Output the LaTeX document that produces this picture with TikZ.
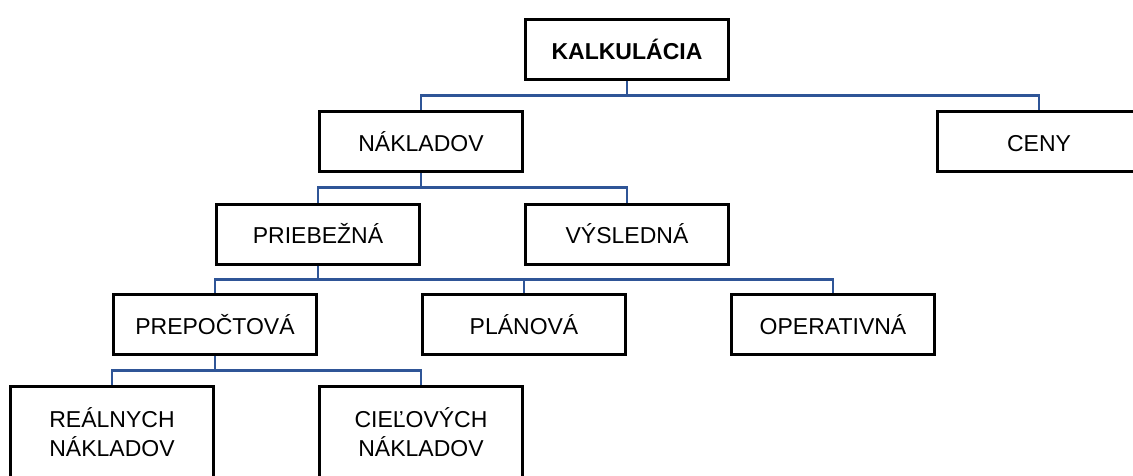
\documentclass[tikz,border=0pt]{standalone}
\usepackage{fontspec}
\setmainfont{Liberation Sans}
\usetikzlibrary{calc}
\definecolor{linkblue}{RGB}{47,85,151}
\tikzset{
  box/.style={draw=black, line width=3pt, fill=white, minimum width=203pt, minimum height=60pt,
    inner sep=0pt, align=center, font=\fontsize{23}{29}\selectfont,
    execute at begin node={\vphantom{ÁČŽ}}},
  tallbox/.style={box, minimum height=92pt},
  link/.style={draw=linkblue, line width=2.6pt}
}
\begin{document}
\begin{tikzpicture}[x=1pt,y=-1pt]
\useasboundingbox (0,0) rectangle (1133,475);
\clip (0,0) rectangle (1133,475);
\node[box] (K) at (627,49) {\bfseries KALKULÁCIA};
\node[box] (N) at (421,141.5) {NÁKLADOV};
\node[box] (C) at (1039,141.5) {CENY};
\node[box] (PR) at (318,234) {PRIEBEŽNÁ};
\node[box] (VY) at (627,234) {VÝSLEDNÁ};
\node[box] (PP) at (215,324.5) {PREPOČTOVÁ};
\node[box] (PL) at (524,324.5) {PLÁNOVÁ};
\node[box] (OP) at (833,324.5) {OPERATIVNÁ};
\node[tallbox] (RE) at (112,432.5) {REÁLNYCH\\NÁKLADOV};
\node[tallbox] (CI) at (421,432.5) {CIEĽOVÝCH\\NÁKLADOV};
% connectors
\coordinate (kb) at ($(K.south)!0.5!(K.south|-N.north)$);
\draw[link] (K.south) -- (kb) -| (N.north);
\draw[link] (kb) -| (C.north);
\coordinate (nb) at ($(N.south)!0.5!(N.south|-PR.north)$);
\draw[link] (N.south) -- (nb) -| (PR.north);
\draw[link] (nb) -| (VY.north);
\coordinate (pb) at ($(PR.south)!0.5!(PR.south|-PP.north)$);
\draw[link] (PR.south) -- (pb) -| (PP.north);
\draw[link] (pb) -| (PL.north);
\draw[link] (pb) -| (OP.north);
\coordinate (qb) at ($(PP.south)!0.5!(PP.south|-RE.north)$);
\draw[link] (PP.south) -- (qb) -| (RE.north);
\draw[link] (qb) -| (CI.north);
\end{tikzpicture}
\end{document}
